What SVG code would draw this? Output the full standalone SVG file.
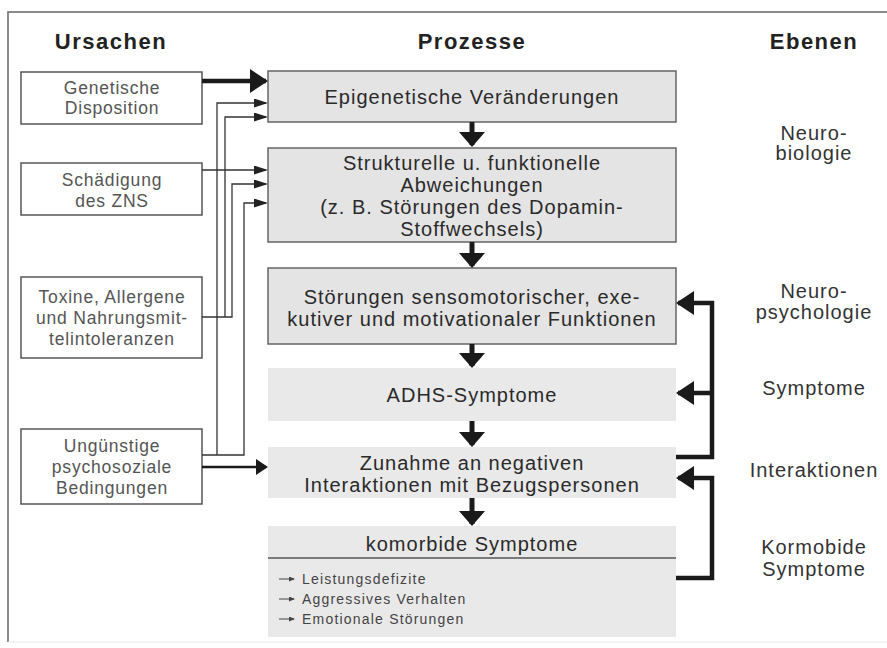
<svg xmlns="http://www.w3.org/2000/svg" width="887" height="648" viewBox="0 0 887 648">
<defs>
<style>
.hdr{font-family:"Liberation Sans",Arial,sans-serif;font-weight:bold;font-size:22px;letter-spacing:1.5px;fill:#222;text-anchor:middle}
.lt{font-family:"Liberation Sans",Arial,sans-serif;font-size:17.5px;letter-spacing:0.8px;fill:#555;text-anchor:middle}
.ct{font-family:"Liberation Sans",Arial,sans-serif;font-size:20px;letter-spacing:1px;fill:#2a2a2a;text-anchor:middle}
.rt{font-family:"Liberation Sans",Arial,sans-serif;font-size:20px;letter-spacing:1px;fill:#333;text-anchor:middle}
.li{font-family:"Liberation Sans",Arial,sans-serif;font-size:14px;letter-spacing:1.2px;fill:#444}
.lbox{fill:#fff;stroke:#555;stroke-width:1.5}
.cbox{fill:#e4e4e4;stroke:#666;stroke-width:1.5}
.cbox2{fill:#e9e9e9;stroke:none}
.thin{fill:none;stroke:#333;stroke-width:1.3;marker-end:url(#hs)}
.thick{fill:none;stroke:#1a1a1a;stroke-width:5;marker-end:url(#hd)}
.fb{fill:none;stroke:#1a1a1a;stroke-width:4.5;marker-end:url(#hf)}
.bul{fill:none;stroke:#444;stroke-width:1;marker-end:url(#hb)}
</style>
<marker id="hs" markerUnits="userSpaceOnUse" markerWidth="14" markerHeight="9" refX="12" refY="4.5" orient="auto"><path d="M0,0 L14,4.5 L0,9 z" fill="#222"/></marker>
<marker id="hd" markerUnits="userSpaceOnUse" markerWidth="15" markerHeight="26" refX="13" refY="13" orient="auto"><path d="M0,0 L15,13 L0,26 z" fill="#1a1a1a"/></marker>
<marker id="hf" markerUnits="userSpaceOnUse" markerWidth="18" markerHeight="24" refX="16" refY="12" orient="auto"><path d="M0,0 L18,12 L0,24 z" fill="#1a1a1a"/></marker>
<marker id="hm" markerUnits="userSpaceOnUse" markerWidth="12" markerHeight="16" refX="10" refY="8" orient="auto"><path d="M0,0 L12,8 L0,16 z" fill="#1a1a1a"/></marker>
<marker id="hb" markerUnits="userSpaceOnUse" markerWidth="6" markerHeight="5" refX="5" refY="2.5" orient="auto"><path d="M0,0 L6,2.5 L0,5 z" fill="#444"/></marker>
</defs>
<rect width="887" height="648" fill="#fff"/>
<g id="frame">
<path d="M887,12 H8 V642" fill="none" stroke="#666" stroke-width="1.5"/>
<path d="M8,642 H887" fill="none" stroke="#e6e6e6" stroke-width="1"/>
</g>
<g id="headers">
<text class="hdr" x="111" y="49">Ursachen</text>
<text class="hdr" x="472" y="49">Prozesse</text>
<text class="hdr" x="814" y="49">Ebenen</text>
</g>
<g id="genetische">
<rect class="lbox" x="21" y="72" width="181" height="52"/>
<text class="lt" x="112" y="94">Genetische</text>
<text class="lt" x="112" y="114">Disposition</text>
</g>
<g id="schaedigung">
<rect class="lbox" x="21" y="163" width="181" height="52"/>
<text class="lt" x="112" y="186">Schädigung</text>
<text class="lt" x="112" y="207">des ZNS</text>
</g>
<g id="toxine">
<rect class="lbox" x="21" y="277" width="181" height="81"/>
<text class="lt" x="112" y="303">Toxine, Allergene</text>
<text class="lt" x="112" y="324">und Nahrungsmit-</text>
<text class="lt" x="112" y="345">telintoleranzen</text>
</g>
<g id="unguenstige">
<rect class="lbox" x="21" y="429" width="181" height="75"/>
<text class="lt" x="112" y="452">Ungünstige</text>
<text class="lt" x="112" y="473">psychosoziale</text>
<text class="lt" x="112" y="494">Bedingungen</text>
</g>
<g id="epigenetische">
<rect class="cbox" x="268" y="71" width="408" height="51"/>
<text class="ct" x="472" y="104">Epigenetische Veränderungen</text>
</g>
<g id="strukturelle">
<rect class="cbox" x="268" y="148" width="408" height="94"/>
<text class="ct" x="472" y="170">Strukturelle u. funktionelle</text>
<text class="ct" x="472" y="192">Abweichungen</text>
<text class="ct" x="472" y="214">(z. B. Störungen des Dopamin-</text>
<text class="ct" x="472" y="236">Stoffwechsels)</text>
</g>
<g id="stoerungen">
<rect class="cbox" x="268" y="268" width="408" height="76"/>
<text class="ct" x="472" y="304">Störungen sensomotorischer, exe-</text>
<text class="ct" x="472" y="326">kutiver und motivationaler Funktionen</text>
</g>
<g id="adhs">
<rect class="cbox2" x="268" y="368" width="408" height="53"/>
<text class="ct" x="472" y="402">ADHS-Symptome</text>
</g>
<g id="zunahme">
<rect class="cbox2" x="268" y="447" width="408" height="51"/>
<text class="ct" x="472" y="470">Zunahme an negativen</text>
<text class="ct" x="472" y="492">Interaktionen mit Bezugspersonen</text>
</g>
<g id="komorbide">
<rect class="cbox2" x="268" y="526" width="408" height="111"/>
<line x1="268" y1="558" x2="676" y2="558" stroke="#555" stroke-width="1.3"/>
<text class="ct" x="472" y="551">komorbide Symptome</text>
<path class="bul" d="M279,579 H294"/>
<path class="bul" d="M279,599 H294"/>
<path class="bul" d="M279,619 H294"/>
<text class="li" x="302" y="584">Leistungsdefizite</text>
<text class="li" x="302" y="604">Aggressives Verhalten</text>
<text class="li" x="302" y="624">Emotionale Störungen</text>
</g>
<g id="ebenen">
<text class="rt" x="814" y="140">Neuro-</text>
<text class="rt" x="814" y="160">biologie</text>
<text class="rt" x="814" y="298">Neuro-</text>
<text class="rt" x="814" y="319">psychologie</text>
<text class="rt" x="814" y="395">Symptome</text>
<text class="rt" x="814" y="477">Interaktionen</text>
<text class="rt" x="814" y="554">Kormobide</text>
<text class="rt" x="814" y="576">Symptome</text>
</g>
<g id="connectors">
<path d="M202,81 H266" fill="none" stroke="#1a1a1a" stroke-width="4.5" marker-end="url(#hf)"/>
<path class="thin" d="M202,170 H266"/>
<path class="thin" d="M217,455 V103 H266"/>
<path class="thin" d="M202,455 H244 V203 H266"/>
<path class="thin" d="M225,317 V117 H266"/>
<path class="thin" d="M202,317 H232 V184 H266"/>
<path d="M202,467 H266" fill="none" stroke="#1a1a1a" stroke-width="2.6" marker-end="url(#hm)"/>
<path class="thick" d="M472,122 V145"/>
<path class="thick" d="M472,242 V266"/>
<path class="thick" d="M472,344 V366"/>
<path class="thick" d="M472,421 V445"/>
<path class="thick" d="M472,498 V524"/>
<path class="fb" d="M676,457 H712 V303 H678"/>
<path class="fb" d="M712,393 H678"/>
<path class="fb" d="M676,578 H712 V478 H678"/>
</g>
</svg>
